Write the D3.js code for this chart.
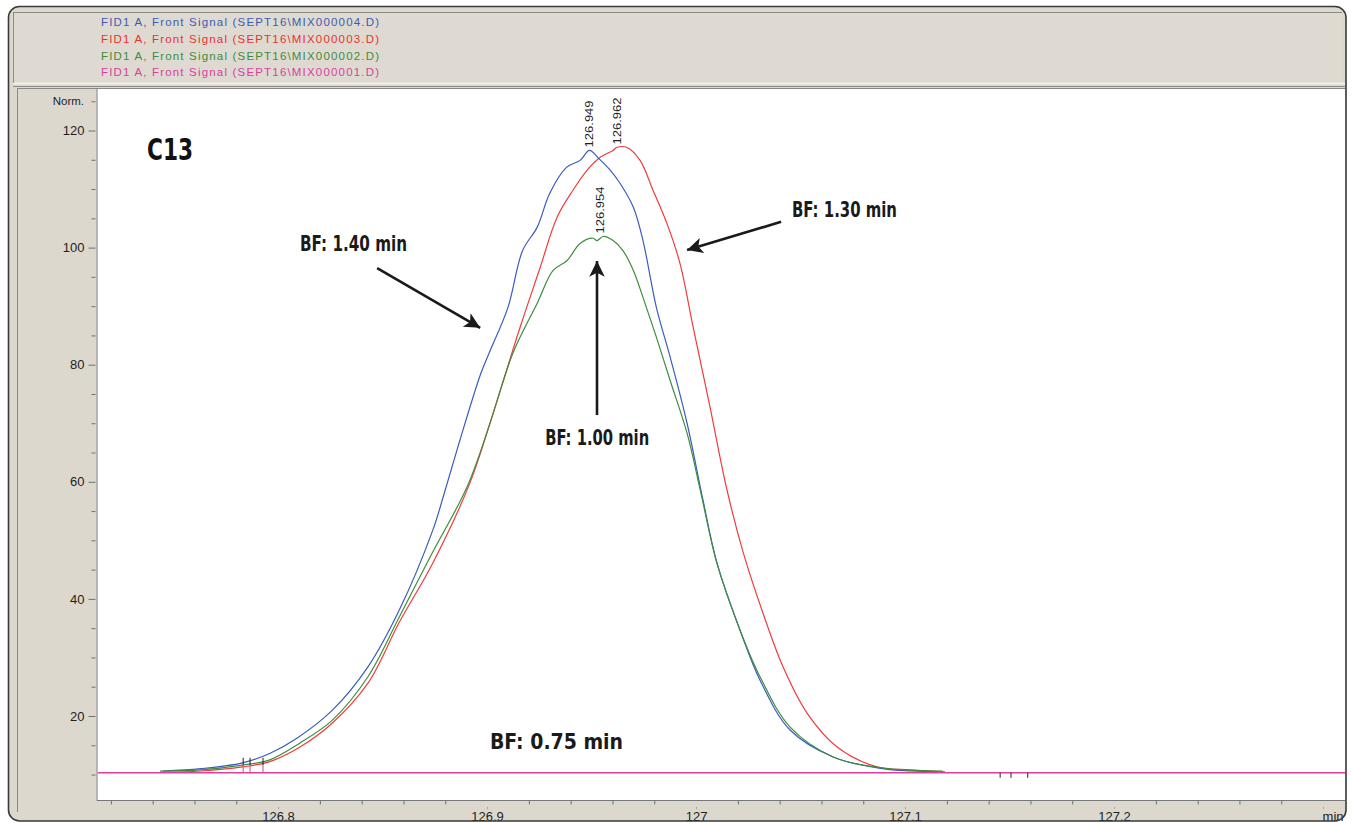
<!DOCTYPE html>
<html><head><meta charset="utf-8">
<script src="https://cdn.jsdelivr.net/npm/d3@7"></script>
<style>
html,body{margin:0;padding:0;background:#fff;}
svg{display:block;}
</style></head><body>
<svg id="chart" width="1352" height="823"></svg>
<script>
// ---------------- DATA ----------------
const legendLabels = [
  "FID1 A, Front Signal (SEPT16\\MIX000004.D)",
  "FID1 A, Front Signal (SEPT16\\MIX000003.D)",
  "FID1 A, Front Signal (SEPT16\\MIX000002.D)",
  "FID1 A, Front Signal (SEPT16\\MIX000001.D)"
];

// MIX000004 (blue, BF 1.40 min)
const blueTimes = [126.745,126.763,126.783,126.796,126.809,126.826,126.843,126.858,126.874,126.879,126.887,126.897,126.901,126.910,126.917,126.924,126.930,126.938,126.9445,126.949,126.9535,126.959,126.9636,126.970,126.9746,126.981,126.9876,126.9957,127.0033,127.010,127.021,127.0306,127.045,127.0656,127.0895,127.1024,127.119];
const blueValues = [10.6,11.0,12.0,13.6,16.2,21.0,28.4,38.1,51.7,57.4,67.1,78.5,82.0,89.8,99.5,103.5,109.3,113.7,114.9,116.6,115.2,113.2,111.0,106.9,101.2,89.8,81.3,70.0,56.9,46.1,34.7,26.1,17.6,13.0,11.0,10.6,10.4];

// MIX000003 (red, BF 1.30 min)
const redTimes = [126.7435,126.763,126.783,126.796,126.8105,126.826,126.843,126.858,126.874,126.8919,126.9048,126.9158,126.9254,126.9335,126.9411,126.9478,126.954,126.9603,126.962,126.967,126.9732,126.9794,126.9861,126.9923,126.9986,127.0067,127.0148,127.0225,127.032,127.0416,127.0531,127.0675,127.0866,127.1024,127.119];
const redValues = [10.4,10.6,11.3,12.2,14.7,18.8,25.6,36.0,46.1,59.9,73.9,86.4,96.6,105.2,109.8,113.2,115.4,116.6,117.1,117.1,114.9,109.8,104.1,97.3,86.4,72.7,58.6,48.0,37.6,28.4,20.5,14.7,11.3,10.8,10.4];

// MIX000002 (green, BF 1.00 min)
const greenTimes = [126.7435,126.763,126.783,126.796,126.8105,126.826,126.843,126.858,126.874,126.8904,126.9014,126.9124,126.924,126.9316,126.9383,126.9445,126.9507,126.9526,126.9555,126.9603,126.965,126.970,126.9746,126.981,126.9876,126.9957,127.002,127.010,127.021,127.0306,127.045,127.0656,127.0895,127.118];
const greenValues = [10.6,10.8,11.6,12.5,15.4,19.3,26.7,36.9,48.0,59.1,70.0,82.0,90.5,96.1,97.8,100.7,101.6,101.2,101.9,101.2,99.5,96.1,91.5,84.7,77.3,68.3,58.6,46.1,34.7,26.7,18.1,13.0,11.1,10.6];

// MIX000001 (magenta, BF 0.75 min) - flat baseline
const pinkTimes = [126.7136,127.3105];
const pinkValues = [10.3,10.3];

// Peak apex labels
const peakTimes = [126.949,126.962,126.954];
const peakValues = [116.6,117.1,101.9];
const peakLabels = ["126.949","126.962","126.954"];

// Integration markers
const startMarkTimes = [126.7833,126.7866,126.7928];
const endMarkTimes = [127.1455,127.1507,127.1587];

// Axis ticks
const xMajorTicks = [126.8,126.9,127.0,127.1,127.2,127.3];
const xTickLabels = ["126.8","126.9","127","127.1","127.2","min"];
const yMajorTicks = [20,40,60,80,100,120];
const yTickLabels = ["20","40","60","80","100","120"];

// Annotations (in data coordinates)
const annoTexts = ["BF: 1.40 min","BF: 1.30 min","BF: 1.00 min","BF: 0.75 min"];
const annoTimes = [126.8105,127.0459,126.9278,126.9014];
const annoValues = [99.42,105.23,66.29,14.36];
const arrowFromTimes = [126.8474,127.0407,126.9526];
const arrowFromValues = [96.5,104.4,71.4];
const arrowToTimes = [126.8967,126.9957,126.9526];
const arrowToValues = [86.3,99.6,97.7];

// ---------------- STYLE / LAYOUT ----------------
const colors = ["#3a5cbf","#f03c3c","#3e8d3e","#de3f9c"];
const legendColors = ["#3d5bb3","#e8322f","#3f8a3f","#d83f9f"];
const annoWidths = [107,105,104,133];

const svg = d3.select("#chart");
const plotL = 97.5, plotR = 1345, plotT = 89, plotB = 800;

const x = d3.scaleLinear().domain([126.7136,127.3105]).range([plotL,plotR]);
const y = d3.scaleLinear().domain([5.65,127.09]).range([plotB,plotT]);

const defs = svg.append("defs");
defs.append("clipPath").attr("id","plotclip").append("rect")
  .attr("x",plotL).attr("y",plotT).attr("width",plotR-plotL).attr("height",plotB-plotT);
defs.append("clipPath").attr("id","frameclip").append("rect")
  .attr("x",9).attr("y",7).attr("width",1336).attr("height",813.5);
defs.append("marker").attr("id","ah").attr("viewBox","0 0 10 10")
  .attr("refX",10).attr("refY",5).attr("markerWidth",8).attr("markerHeight",6)
  .attr("markerUnits","strokeWidth").attr("orient","auto")
  .append("path").attr("d","M0,0 L10,5 L0,10 L2.5,5 Z").attr("fill","#1a1a1a");

// Outer frame
svg.append("rect").attr("x",8.5).attr("y",6.5).attr("width",1337.5).attr("height",814.5)
  .attr("rx",11).attr("fill","#dcd8ce").attr("stroke","none");

// Legend panel
svg.append("line").attr("x1",13).attr("x2",1342).attr("y1",12.5).attr("y2",12.5).attr("stroke","#8c8a86");
svg.append("line").attr("x1",13.5).attr("x2",13.5).attr("y1",12).attr("y2",84).attr("stroke","#8c8a86");
svg.append("rect").attr("x",14).attr("y",13).attr("width",1328).attr("height",70).attr("fill","#dedad1");
svg.append("line").attr("x1",13).attr("x2",1345).attr("y1",83.5).attr("y2",83.5).attr("stroke","#f6f4f0").attr("stroke-width",1.5);
svg.append("line").attr("x1",13).attr("x2",1345).attr("y1",86.5).attr("y2",86.5).attr("stroke","#8e8c88").attr("stroke-width",1.2);

const lg = svg.append("g");
legendLabels.forEach((t,i)=>{
  lg.append("text").attr("x",101).attr("y",26+i*16.8)
    .attr("font-family","'Liberation Sans', Arial, sans-serif").attr("font-size",11.5)
    .attr("textLength",278).attr("lengthAdjust","spacing")
    .attr("fill",legendColors[i]).text(t);
});

// Plot panel
svg.append("line").attr("x1",17.5).attr("x2",17.5).attr("y1",88).attr("y2",812).attr("stroke","#8a8884");
svg.append("line").attr("x1",17.5).attr("x2",1345).attr("y1",88.5).attr("y2",88.5).attr("stroke","#8a8884");
svg.append("rect").attr("x",plotL).attr("y",plotT).attr("width",plotR-plotL).attr("height",plotB-plotT).attr("fill","#ffffff");

// Y axis
const yMinor = d3.range(10,126,5).filter(v=>!yMajorTicks.includes(v));
const yg = svg.append("g").attr("transform","translate(95.5,0)");
yg.call(d3.axisLeft(y).tickValues(yMajorTicks).tickSize(7).tickPadding(4)
  .tickFormat((d,i)=>yTickLabels[i]));
const ygm = svg.append("g").attr("transform","translate(95.5,0)");
ygm.call(d3.axisLeft(y).tickValues(yMinor).tickSize(4).tickFormat(""));
[yg,ygm].forEach(g=>{
  g.select(".domain").remove();
  g.selectAll("line").attr("stroke","#707070");
  g.selectAll("text").attr("font-family","'Liberation Sans', Arial, sans-serif")
    .attr("font-size",13).attr("fill","#1e1e1e");
});
svg.append("text").attr("x",84).attr("y",y(125)).attr("dy","0.35em").attr("text-anchor","end")
  .attr("font-family","'Liberation Sans', Arial, sans-serif").attr("font-size",11.5).attr("fill","#1e1e1e").text("Norm.");
svg.append("line").attr("x1",97).attr("x2",97).attr("y1",plotT).attr("y2",plotB+1).attr("stroke","#8a8a8a");

// X axis
const xMinor = d3.range(0,31).map(i=>126.72+i*0.02).filter(v=>!xMajorTicks.some(m=>Math.abs(m-v)<1e-6));
const xg = svg.append("g").attr("transform",`translate(0,${plotB+0.5})`).attr("clip-path","url(#frameclip)");
xg.call(d3.axisBottom(x).tickValues(xMajorTicks).tickSize(8).tickPadding(3)
  .tickFormat((d,i)=>xTickLabels[i]));
const xgm = svg.append("g").attr("transform",`translate(0,${plotB+0.5})`);
xgm.call(d3.axisBottom(x).tickValues(xMinor.filter(v=>v<127.31)).tickSize(4).tickFormat(""));
[xg,xgm].forEach(g=>{
  g.select(".domain").remove();
  g.selectAll("line").attr("stroke","#707070");
  g.selectAll("text").attr("font-family","'Liberation Sans', Arial, sans-serif")
    .attr("font-size",13).attr("fill","#1e1e1e");
});
xg.selectAll(".tick").filter((d,i)=>i===xTickLabels.length-1).select("text")
  .attr("text-anchor","start").attr("x",-1);
svg.append("line").attr("x1",97).attr("x2",plotR).attr("y1",plotB+0.5).attr("y2",plotB+0.5).attr("stroke","#777");

// Series
const plot = svg.append("g").attr("clip-path","url(#plotclip)");
const line = d3.line().x(d=>x(d[0])).y(d=>y(d[1])).curve(d3.curveCatmullRom.alpha(0.5));
const series = [
  {t:redTimes, v:redValues, c:colors[1]},
  {t:blueTimes, v:blueValues, c:colors[0]},
  {t:greenTimes, v:greenValues, c:colors[2]},
  {t:pinkTimes, v:pinkValues, c:colors[3]}
];
series.forEach(s=>{
  const pts = s.t.map((t,i)=>[t,s.v[i]]);
  plot.append("path").datum(pts).attr("d",line).attr("fill","none")
    .attr("stroke",s.c).attr("stroke-width",s.c===colors[3]?1.6:1.2).attr("stroke-linejoin","round");
});

// Integration markers
const baseY = y(pinkValues[0]);
startMarkTimes.forEach(t=>{
  plot.append("line").attr("x1",x(t)).attr("x2",x(t)).attr("y1",baseY-10).attr("y2",baseY).attr("stroke",colors[3]).attr("stroke-width",1);
  plot.append("line").attr("x1",x(t)).attr("x2",x(t)).attr("y1",baseY-15).attr("y2",baseY-8).attr("stroke","#222").attr("stroke-width",1);
});
endMarkTimes.forEach(t=>{
  plot.append("line").attr("x1",x(t)).attr("x2",x(t)).attr("y1",baseY).attr("y2",baseY+5).attr("stroke","#222").attr("stroke-width",1);
});

// Peak labels
peakTimes.forEach((t,i)=>{
  const px = x(t)+4, py = y(peakValues[i])-3;
  svg.append("text").attr("transform",`translate(${px},${py}) rotate(-90)`)
    .attr("font-family","'Liberation Sans', Arial, sans-serif").attr("font-size",11.5)
    .attr("textLength",47).attr("lengthAdjust","spacingAndGlyphs")
    .attr("fill","#1e1e1e").text(peakLabels[i]);
});

// Title
const boldFont = "'Liberation Sans Narrow','DejaVu Sans Condensed','Liberation Sans',sans-serif";
svg.append("text").attr("x",x(126.7373)).attr("y",y(114.96))
  .attr("font-family",boldFont).attr("font-weight","bold").attr("font-size",31)
  .attr("textLength",46).attr("lengthAdjust","spacingAndGlyphs").attr("fill","#111").text("C13");

// Annotations
annoTexts.forEach((t,i)=>{
  svg.append("text").attr("x",x(annoTimes[i])).attr("y",y(annoValues[i]))
    .attr("font-family",boldFont).attr("font-weight","bold").attr("font-size",22)
    .attr("textLength",annoWidths[i]).attr("lengthAdjust","spacingAndGlyphs")
    .attr("fill","#1a1a1a").text(t);
});
arrowFromTimes.forEach((t,i)=>{
  svg.append("line").attr("x1",x(t)).attr("y1",y(arrowFromValues[i]))
    .attr("x2",x(arrowToTimes[i])).attr("y2",y(arrowToValues[i]))
    .attr("stroke","#1a1a1a").attr("stroke-width",2.6).attr("marker-end","url(#ah)");
});

// Frame border on top
svg.append("rect").attr("x",8.5).attr("y",6.5).attr("width",1337.5).attr("height",814.5)
  .attr("rx",11).attr("fill","none").attr("stroke","#3a3a3a").attr("stroke-width",1.6);
</script>
</body></html>
